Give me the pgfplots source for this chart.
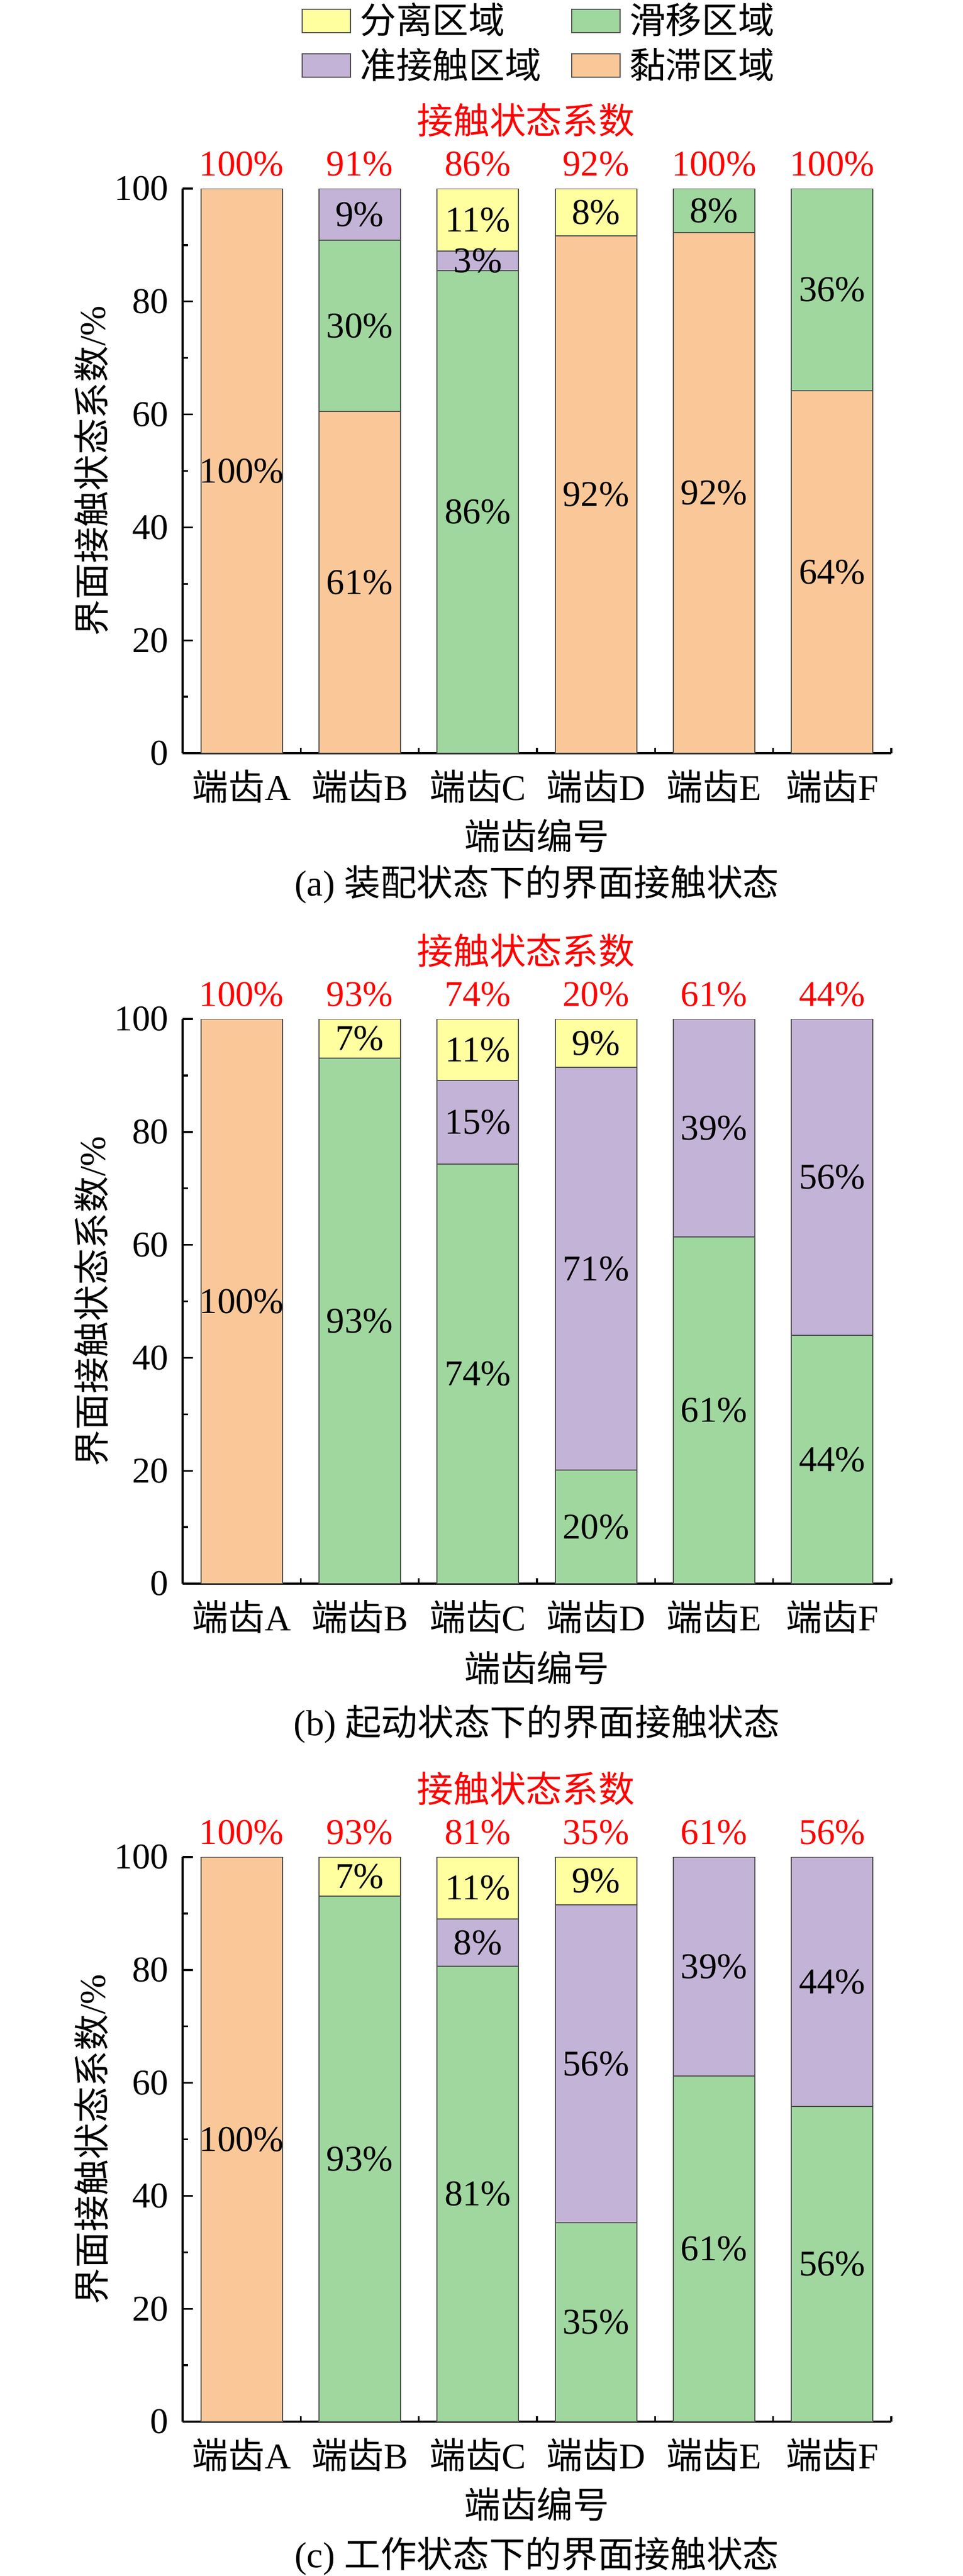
\documentclass[border=0pt]{standalone}
\usepackage{pgfplots}
\pgfplotsset{compat=1.18}
\usepackage{fontspec}
\setmainfont{Liberation Serif}
\newfontfamily\cjk{Noto Sans CJK SC}
\newcommand\fs{\fontsize{20}{24}\selectfont}
\definecolor{stickc}{HTML}{FAC898}
\definecolor{slipc}{HTML}{9FD79E}
\definecolor{quasic}{HTML}{C3B3D6}
\definecolor{sepc}{HTML}{FFFFA0}
\definecolor{edge}{HTML}{4D4D4D}
\definecolor{lab}{HTML}{FF0000}
\pgfplotsset{
  panel/.style={
    scale only axis, width=391.2pt, height=311.7pt,
    xmin=-0.5, xmax=5.5, ymin=0, ymax=100,
    anchor=south west,
  },
  main/.style={panel,
    ybar stacked, bar width=45pt,
    axis x line*=bottom, axis y line*=left,
    axis line style={line width=1pt, black},
    xtick={0,1,2,3,4,5},
    xticklabels={{{\cjk 端齿}A},{{\cjk 端齿}B},{{\cjk 端齿}C},{{\cjk 端齿}D},{{\cjk 端齿}E},{{\cjk 端齿}F}},
    minor xtick={0.5,1.5,2.5,3.5,4.5,5.5},
    ytick={0,20,40,60,80,100}, minor ytick={10,30,50,70,90},
    tick align=inside, major tick length=5.7pt, minor tick length=3pt,
    every tick/.style={black, line width=1pt},
    tick label style={font=\fs},
    xticklabel style={anchor=center, yshift=-18.3pt, inner sep=0pt},
    yticklabel style={anchor=east, xshift=-7.5pt, inner sep=0pt},
    /pgf/number format/assume math mode=true,
    every axis x label/.style={at={(axis description cs:0.5,0)}, yshift=-45.6pt, anchor=center, font=\fs},
    every axis y label/.style={at={(axis description cs:0,0.5)}, xshift=-50.4pt, rotate=90, anchor=center, font=\fs},
    every axis title/.style={at={(axis description cs:0.5,1)}, yshift=37.8pt, xshift=-6pt, anchor=center, font=\fs, text=lab},
    xlabel={{\cjk 端齿编号}},
    ylabel={{\cjk 界面接触状态系数}/\%},
    title={{\cjk 接触状态系数}},
  },
  over/.style={panel, hide axis, clip=false,
    nodes near coords, point meta=explicit symbolic,
    every node near coord/.style={anchor=center, font=\fs, inner sep=0pt, black},
  },
  seg/.style={draw=edge, line width=0.6pt, fill=#1},
}
\begin{document}
\begin{tikzpicture}
\useasboundingbox (0,0) rectangle (531.6pt,-1422pt);

% ---------------- (a) ----------------
\begin{axis}[main, at={(100.8pt,-415.8pt)}]
\addplot[seg=stickc] coordinates {(0,100) (1,60.5) (2,0) (3,91.6) (4,92.2) (5,64.2)};
\addplot[seg=slipc] coordinates {(0,0) (1,30.4) (2,85.5) (3,0) (4,7.8) (5,35.8)};
\addplot[seg=quasic] coordinates {(0,0) (1,9.1) (2,3.4) (3,0) (4,0) (5,0)};
\addplot[seg=sepc] coordinates {(0,0) (1,0) (2,11.1) (3,8.4) (4,0) (5,0)};
\end{axis}
\begin{axis}[over, at={(100.8pt,-415.8pt)},
  legend columns=2,
  legend image code/.code={\draw[#1] (0pt,-6.45pt) rectangle (26.7pt,6.45pt);},
  legend style={at={(0.1679,1.3226)}, anchor=north west, draw=none, fill=none,
    inner sep=0pt, outer sep=0pt, row sep=8.75pt,
    nodes={inner sep=0pt, text height=15pt, text depth=1pt, font=\fs},
    /tikz/every odd column/.append style={column sep=5pt},
    /tikz/every even column/.append style={column sep=16.4pt}},
  legend cell align=left]
\addlegendimage{seg=sepc}\addlegendentry{{\cjk 分离区域}}
\addlegendimage{seg=slipc}\addlegendentry{{\cjk 滑移区域}}
\addlegendimage{seg=quasic}\addlegendentry{{\cjk 准接触区域}}
\addlegendimage{seg=stickc}\addlegendentry{{\cjk 黏滞区域}}
\addplot[only marks, mark=none, forget plot] coordinates {
 (0,50) [100\%]
 (1,30.25) [61\%] (1,75.7) [30\%] (1,95.45) [9\%]
 (2,42.75) [86\%] (2,87.2) [3\%] (2,94.45) [11\%]
 (3,45.8) [92\%] (3,95.8) [8\%]
 (4,46.1) [92\%] (4,96.1) [8\%]
 (5,32.1) [64\%] (5,82.1) [36\%]
};
\addplot[only marks, mark=none, forget plot, every node near coord/.append style={text=lab}] coordinates {
 (0,104.4) [100\%] (1,104.4) [91\%] (2,104.4) [86\%] (3,104.4) [92\%] (4,104.4) [100\%] (5,104.4) [100\%]
};
\end{axis}
\node[font=\fs, anchor=center] at (296.4pt,-488.1pt) {(a) {\cjk 装配状态下的界面接触状态}};

% ---------------- (b) ----------------
\begin{axis}[main, at={(100.8pt,-874.2pt)},
  every axis x label/.append style={yshift=-0.9pt}]
\addplot[seg=stickc] coordinates {(0,100) (1,0) (2,0) (3,0) (4,0) (5,0)};
\addplot[seg=slipc] coordinates {(0,0) (1,93.1) (2,74.3) (3,20.1) (4,61.4) (5,44)};
\addplot[seg=quasic] coordinates {(0,0) (1,0) (2,14.8) (3,71.3) (4,38.6) (5,56)};
\addplot[seg=sepc] coordinates {(0,0) (1,6.9) (2,10.9) (3,8.6) (4,0) (5,0)};
\end{axis}
\begin{axis}[over, at={(100.8pt,-874.2pt)}]
\addplot[only marks, mark=none, forget plot] coordinates {
 (0,50) [100\%]
 (1,46.55) [93\%] (1,96.55) [7\%]
 (2,37.15) [74\%] (2,81.7) [15\%] (2,94.55) [11\%]
 (3,10.05) [20\%] (3,55.75) [71\%] (3,95.7) [9\%]
 (4,30.7) [61\%] (4,80.7) [39\%]
 (5,22) [44\%] (5,72) [56\%]
};
\addplot[only marks, mark=none, forget plot, every node near coord/.append style={text=lab}] coordinates {
 (0,104.4) [100\%] (1,104.4) [93\%] (2,104.4) [74\%] (3,104.4) [20\%] (4,104.4) [61\%] (5,104.4) [44\%]
};
\end{axis}
\node[font=\fs, anchor=center] at (296.4pt,-951.6pt) {(b) {\cjk 起动状态下的界面接触状态}};

% ---------------- (c) ----------------
\begin{axis}[main, at={(100.8pt,-1336.8pt)}]
\addplot[seg=stickc] coordinates {(0,100) (1,0) (2,0) (3,0) (4,0) (5,0)};
\addplot[seg=slipc] coordinates {(0,0) (1,93.1) (2,80.7) (3,35.2) (4,61.2) (5,55.8)};
\addplot[seg=quasic] coordinates {(0,0) (1,0) (2,8.3) (3,56.3) (4,38.8) (5,44.2)};
\addplot[seg=sepc] coordinates {(0,0) (1,6.9) (2,11) (3,8.5) (4,0) (5,0)};
\end{axis}
\begin{axis}[over, at={(100.8pt,-1336.8pt)}]
\addplot[only marks, mark=none, forget plot] coordinates {
 (0,50) [100\%]
 (1,46.55) [93\%] (1,96.55) [7\%]
 (2,40.35) [81\%] (2,84.85) [8\%] (2,94.5) [11\%]
 (3,17.6) [35\%] (3,63.35) [56\%] (3,95.75) [9\%]
 (4,30.6) [61\%] (4,80.6) [39\%]
 (5,27.9) [56\%] (5,77.9) [44\%]
};
\addplot[only marks, mark=none, forget plot, every node near coord/.append style={text=lab}] coordinates {
 (0,104.4) [100\%] (1,104.4) [93\%] (2,104.4) [81\%] (3,104.4) [35\%] (4,104.4) [61\%] (5,104.4) [56\%]
};
\end{axis}
\node[font=\fs, anchor=center] at (296.4pt,-1410.9pt) {(c) {\cjk 工作状态下的界面接触状态}};
\end{tikzpicture}
\end{document}
